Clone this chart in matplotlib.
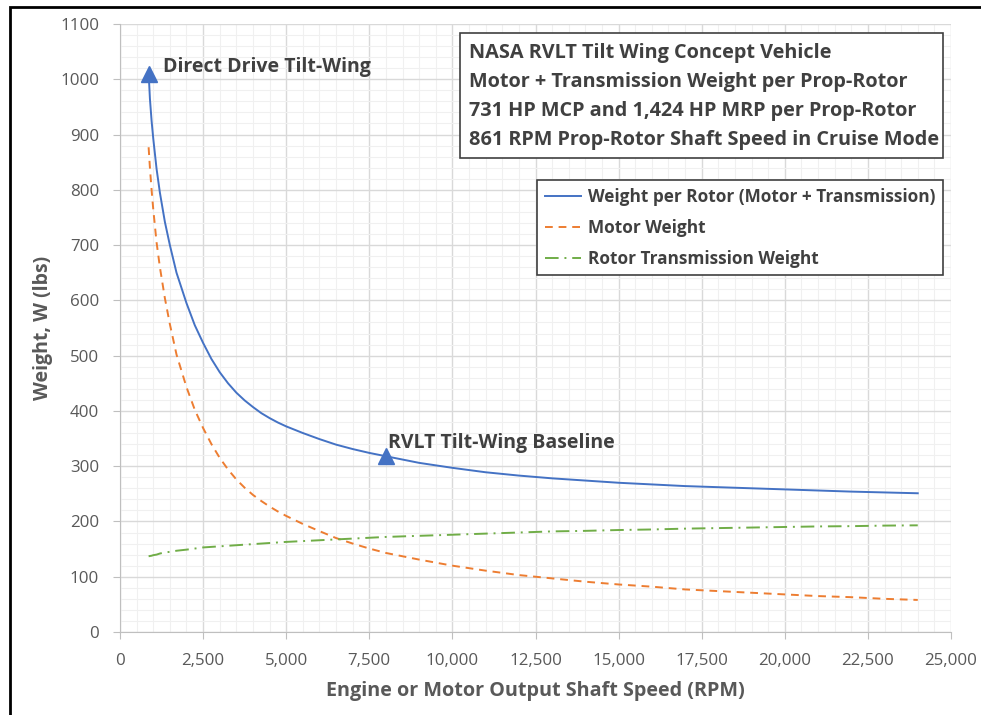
import matplotlib.pyplot as plt
from matplotlib.patches import Rectangle
from matplotlib.ticker import MultipleLocator, FuncFormatter

# ------------------------------
# Dati
# ------------------------------
rpm = [861, 900, 950, 1000, 1100, 1200, 1350, 1500, 1700, 2000, 2250, 2500,
       2750, 3000, 3250, 3500, 3750, 4000, 4250, 4500, 4750, 5000, 5500,
       6000, 6500, 7000, 7500, 8000, 9000, 10000, 11000, 12000, 13000,
       14000, 15000, 16000, 17000, 18000, 19000, 20000, 21000, 22000,
       23000, 24000]

peso_totale = [1012, 965, 925, 893, 838, 795, 742, 700, 650, 595, 555, 523,
               494, 470, 450, 433, 419, 407, 396, 387, 379, 372, 360,
               349, 339, 331, 324, 318, 306, 297, 289, 283, 278,
               274, 270, 267, 264, 262, 260, 258, 256, 254,
               252.5, 251]

peso_motore = [877, 840, 800, 765, 705, 660, 604, 557, 502, 443, 402, 369,
               340, 315, 294, 276, 261, 248, 237, 227, 218, 210, 195.5,
               182.5, 170, 160, 151, 143, 131, 120, 111, 103, 97,
               91, 86, 82, 77, 74, 71, 68, 65, 63,
               60, 58]

peso_trasmissione = [137, 137.5, 138, 139, 140, 142, 144, 145, 147, 149, 151, 153,
                     154, 155, 156, 157, 158, 159, 160, 161, 162, 163, 164.5,
                     166, 167.5, 169, 170.5, 172, 174, 176, 178, 180, 182,
                     183, 184.5, 185.5, 187, 188, 189, 190, 191, 191.5,
                     192.5, 193]

punti_rpm = [861, 8000]
punti_peso = [1010, 318]
punti_nome = ["Direct Drive Tilt-Wing", "RVLT Tilt-Wing Baseline"]

info_righe = ["NASA RVLT Tilt Wing Concept Vehicle",
              "Motor + Transmission Weight per Prop-Rotor",
              "731 HP MCP and 1,424 HP MRP per Prop-Rotor",
              "861 RPM Prop-Rotor Shaft Speed in Cruise Mode"]

# ------------------------------
# Stile
# ------------------------------
plt.rcParams['font.family'] = ['Open Sans', 'DejaVu Sans']
grigio = '#595959'
scuro = '#404040'
blu, arancio, verde = '#4472C4', '#ED7D31', '#70AD47'

W, H = 981, 715
fig = plt.figure(figsize=(W / 100, H / 100), dpi=100)
ax = fig.add_axes([120 / W, 83 / H, 831 / W, 608 / H])

ax.plot(rpm, peso_totale, color=blu, lw=1.4,
        label='Weight per Rotor (Motor + Transmission)')
ax.plot(rpm, peso_motore, color=arancio, lw=1.4, dashes=(4, 3),
        label='Motor Weight')
ax.plot(rpm, peso_trasmissione, color=verde, lw=1.4, dashes=(7, 3, 1, 3),
        label='Rotor Transmission Weight')
ax.plot(punti_rpm, punti_peso, ls='none', marker='^', ms=11, color=blu, zorder=5)

ax.text(punti_rpm[0] + 420, punti_peso[0] + 13, punti_nome[0], fontsize=14,
        fontweight='bold', color=scuro, va='center')
ax.text(punti_rpm[1] + 60, punti_peso[1] + 24, punti_nome[1], fontsize=14,
        fontweight='bold', color=scuro, va='center')

ax.set_xlim(0, 25000)
ax.set_ylim(0, 1100)
ax.xaxis.set_major_locator(MultipleLocator(2500))
ax.xaxis.set_minor_locator(MultipleLocator(500))
ax.yaxis.set_major_locator(MultipleLocator(100))
ax.yaxis.set_minor_locator(MultipleLocator(20))
ax.xaxis.set_major_formatter(FuncFormatter(lambda v, p: f"{int(v):,}"))

ax.grid(True, which='major', color='#d9d9d9', lw=1.0)
ax.grid(True, which='minor', color='#f0f0f0', lw=0.8)
ax.set_axisbelow(True)
for s in ['top', 'right']:
    ax.spines[s].set_visible(False)
for s in ['left', 'bottom']:
    ax.spines[s].set_color('#bfbfbf')
ax.tick_params(which='major', length=5, color='#bfbfbf', labelsize=12.2,
               labelcolor=grigio)
ax.tick_params(axis='x', pad=10)
ax.tick_params(axis='y', pad=10)
ax.tick_params(which='minor', length=0)

ax.set_xlabel("Engine or Motor Output Shaft Speed (RPM)", fontsize=14.2,
              fontweight='bold', color=grigio, labelpad=9)
ax.set_ylabel("Weight, W (lbs)", fontsize=14, fontweight='bold',
              color=grigio, labelpad=5)

# riquadro informativo
fig.patches.append(Rectangle((460 / W, 1 - 158 / H), 483 / W, 125 / H,
                             transform=fig.transFigure, fill=True, fc='white',
                             ec=scuro, lw=1.2, zorder=3))
for i, riga in enumerate(info_righe):
    fig.text(469 / W, 1 - (53 + i * 29) / H, riga, fontsize=14.3,
             fontweight='bold', color=scuro, va='center', zorder=4)

# legenda
leg = ax.legend(loc='upper right', bbox_to_anchor=(943 / W, 1 - 180 / H),
                bbox_transform=fig.transFigure, fancybox=False,
                edgecolor=scuro, framealpha=1, prop={'weight': 'bold', 'size': 12.4},
                handlelength=2.1, handletextpad=0.4, labelspacing=0.75,
                borderpad=0.45, borderaxespad=0)
for t in leg.get_texts():
    t.set_color(scuro)
leg.get_frame().set_linewidth(1.2)

# bordo nero esterno
fig.patches.append(Rectangle((10 / W, -0.1), 1.2, 1.1 - 7 / H,
                             transform=fig.transFigure, fill=False,
                             ec='black', lw=2))

fig.savefig('out.png', dpi=100)
